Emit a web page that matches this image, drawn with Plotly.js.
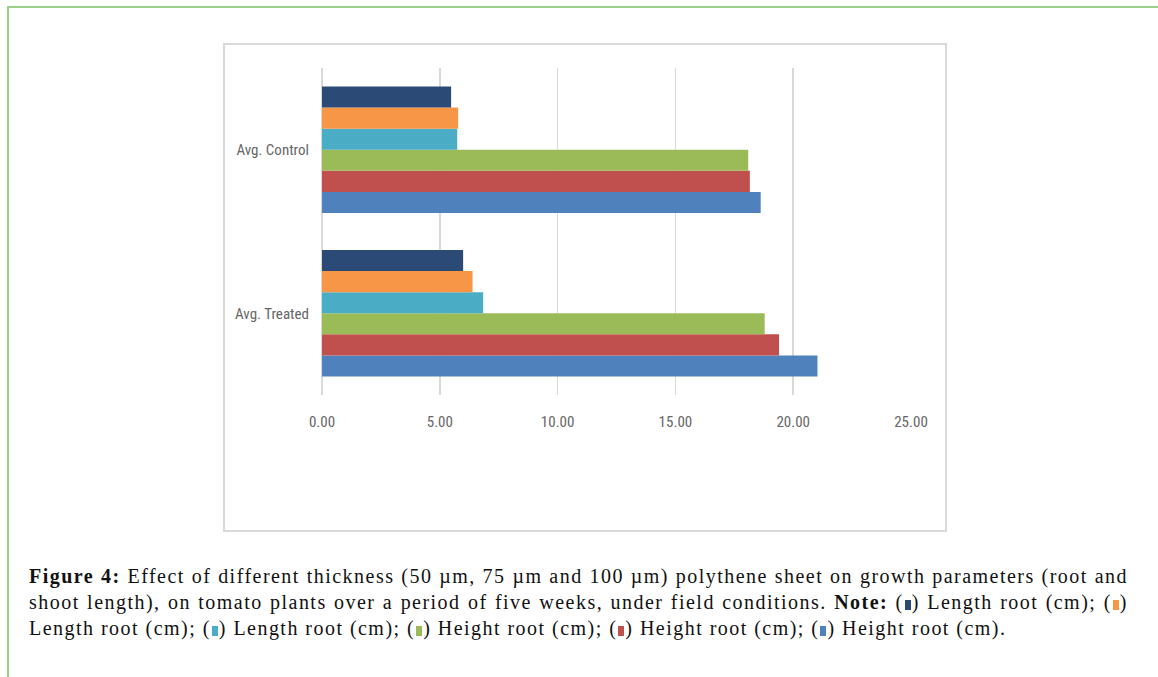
<!DOCTYPE html>
<html>
<head>
<meta charset="utf-8">
<script src="https://cdn.plot.ly/plotly-3.0.1.min.js"></script>
<style>
  html, body { margin:0; padding:0; background:#fff; }
  body { width:1158px; height:677px; position:relative; overflow:hidden; }
  #frame { position:absolute; left:7px; top:6px; width:1200px; height:700px;
           border-top:2px solid #9ccf8a; border-left:2px solid #9ccf8a; }
  #box { position:absolute; left:223px; top:43px; width:720px; height:485px;
         border:2px solid #d9d9d9; }
  #chart { position:absolute; left:224px; top:44px; width:721px; height:486px; }
  .cap { position:absolute; left:29px; width:1099px; font-family:"Liberation Serif","DejaVu Serif",serif;
         font-size:20px; letter-spacing:1.47px; color:#111; white-space:nowrap; }
  .j { text-align:justify; text-align-last:justify; white-space:normal; }
  .sq { display:inline-block; width:6px; height:10px; margin:0 1px; vertical-align:-1px; }
</style>
</head>
<body>
<div id="frame"></div>
<div id="box"></div>
<div id="chart"></div>
<div class="cap j" style="top:565px;"><b>Figure 4:</b> Effect of different thickness (50 µm, 75 µm and 100 µm) polythene sheet on growth parameters (root and</div>
<div class="cap j" style="top:591px;">shoot length), on tomato plants over a period of five weeks, under field conditions. <b>Note:</b> (<span class="sq" style="background:#2b4a75"></span>) Length root (cm); (<span class="sq" style="background:#f79646"></span>)</div>
<div class="cap" style="top:617px;">Length root (cm); (<span class="sq" style="background:#4bacc6"></span>) Length root (cm); (<span class="sq" style="background:#9bbb59"></span>) Height root (cm); (<span class="sq" style="background:#c0504d"></span>) Height root (cm); (<span class="sq" style="background:#4f81bd"></span>) Height root (cm).</div>
<script>
// Categories (bottom to top)
const categories = ["Avg. Treated", "Avg. Control"];
// Series values, ordered as [Avg. Treated, Avg. Control]
const heightRoot3 = [21.03, 18.62];   // blue
const heightRoot2 = [19.40, 18.16];   // red
const heightRoot1 = [18.79, 18.09];   // green
const lengthRoot3 = [6.84, 5.74];     // teal
const lengthRoot2 = [6.39, 5.78];     // orange
const lengthRoot1 = [5.99, 5.48];     // navy
const seriesNames = ["Height root (cm)", "Height root (cm)", "Height root (cm)",
                     "Length root (cm)", "Length root (cm)", "Length root (cm)"];
const seriesColors = ["#4f81bd", "#c0504d", "#9bbb59", "#4bacc6", "#f79646", "#2b4a75"];
const seriesValues = [heightRoot3, heightRoot2, heightRoot1, lengthRoot3, lengthRoot2, lengthRoot1];
const xTicks = [0, 5, 10, 15, 20, 25];

const traces = seriesValues.map((vals, i) => ({
  type: "bar",
  orientation: "h",
  y: categories,
  x: vals,
  name: seriesNames[i],
  marker: { color: seriesColors[i], line: { width: 0 } }
}));

const tickFont = { family: "Liberation Sans Narrow, Roboto Condensed, Roboto, sans-serif", size: 15, color: "#666666" };

const layout = {
  width: 721, height: 486,
  margin: { l: 98, r: 34, t: 24, b: 135 },
  paper_bgcolor: "rgba(0,0,0,0)",
  plot_bgcolor: "rgba(0,0,0,0)",
  barmode: "group",
  bargap: 0.227,
  bargroupgap: 0,
  showlegend: false,
  xaxis: {
    range: [0, 25],
    tickvals: xTicks,
    tickformat: ".2f",
    showgrid: true, gridcolor: "#d9d9d9", gridwidth: 1.5,
    zeroline: true, zerolinecolor: "#d9d9d9", zerolinewidth: 1.5,
    showline: false, ticks: "",
    ticklabelstandoff: 16,
    tickfont: tickFont,
    fixedrange: true
  },
  yaxis: {
    type: "category",
    categoryorder: "array", categoryarray: categories,
    showgrid: false, zeroline: false, showline: false, ticks: "",
    ticklabelstandoff: 12,
    tickfont: tickFont,
    fixedrange: true
  },
  hovermode: false
};

Plotly.newPlot("chart", traces, layout, { displayModeBar: false, staticPlot: true });
</script>
</body>
</html>
